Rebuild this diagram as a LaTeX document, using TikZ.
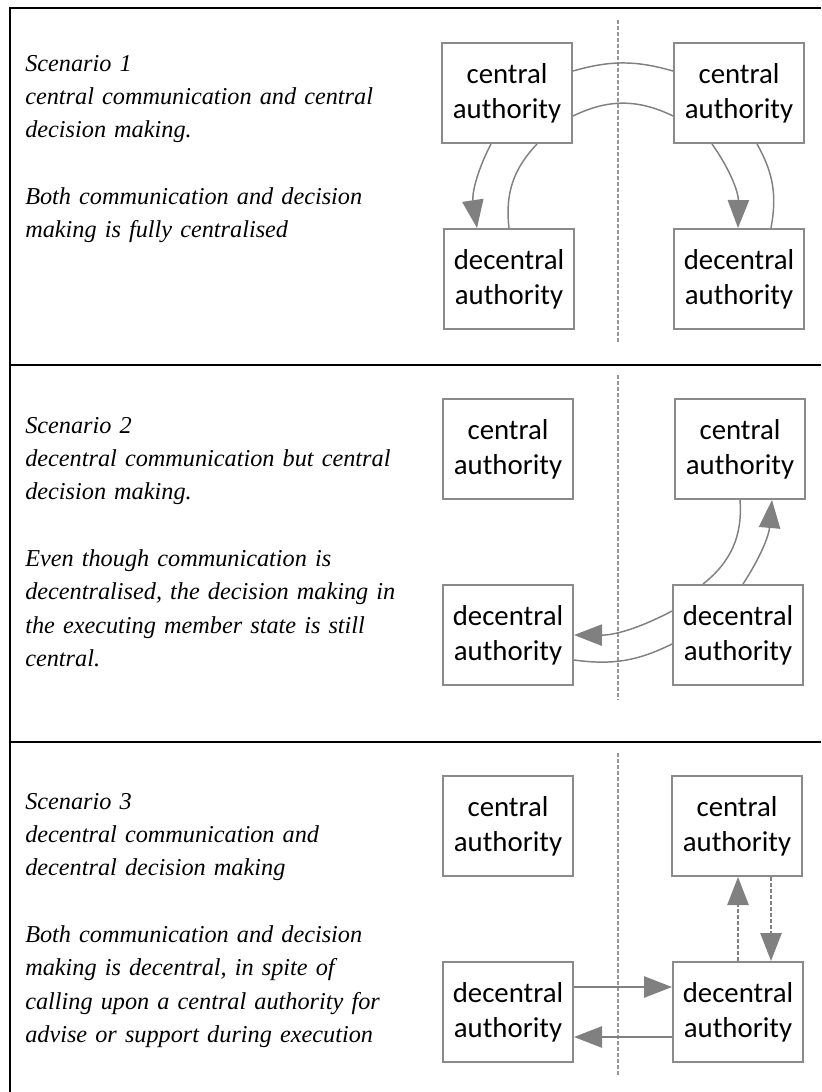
\documentclass[tikz,border=0pt]{standalone}
\usepackage{fontspec}
\newfontfamily\boxfont{Carlito}
\newfontfamily\scenfont{Liberation Serif}
\usetikzlibrary{arrows.meta, calc}
\definecolor{boxgray}{RGB}{138,138,138}
\definecolor{flowgray}{RGB}{128,128,128}
\definecolor{sepgray}{RGB}{150,150,150}

\begin{document}
\begin{tikzpicture}[x=0.75pt, y=0.75pt,
  authbox/.style={draw=boxgray, line width=1.5pt, minimum width=97.5pt, minimum height=75pt,
    inner sep=0pt, align=center, font=\boxfont\fontsize{21.6}{26}\selectfont},
  scentext/.style={anchor=base west, align=left, inner sep=0pt, text width=300pt,
    font=\scenfont\itshape\fontsize{18.2}{25}\selectfont},
  frame/.style={black, line width=1.5pt},
  divider/.style={sepgray, line width=1pt, dash pattern=on 3pt off 1.5pt},
  flow/.style={flowgray, line width=1.1pt},
  flowtip/.style={flow, -{Triangle[length=21pt, width=16pt]}}]
  \useasboundingbox (0,0) rectangle (821,-1092);

  % frame and dividers
  \draw[frame] (821,-8) -- (10,-8) -- (10,-1092);
  \draw[frame] (10,-365) -- (821,-365);
  \draw[frame] (10,-742) -- (821,-742);
  \draw[divider] (618,-20) -- (618,-343);
  \draw[divider] (618,-375) -- (618,-700);
  \draw[divider] (618,-753) -- (618,-1077);

  % scenario texts
  \node[scentext] (txt1) at (25,-71) {Scenario 1\\central communication and central\\decision making.\\[25pt]Both communication and decision\\making is fully centralised};
  \node[scentext] (txt2) at (25,-433) {Scenario 2\\decentral communication but central\\decision making.\\[25pt]Even though communication is\\decentralised, the decision making in\\the executing member state is still\\central.};
  \node[scentext] (txt3) at (25,-809) {Scenario 3\\decentral communication and\\decentral decision making\\[25pt]Both communication and decision\\making is decentral, in spite of\\calling upon a central authority for\\advise or support during execution};

  % scenario 1
  \node[authbox] (cl1) at (507,-93) {central\\authority};
  \node[authbox] (cr1) at (739,-93) {central\\authority};
  \node[authbox] (dl1) at (509,-279) {decentral\\authority};
  \node[authbox] (dr1) at (739,-279) {decentral\\authority};
  \draw[flow] ($(cl1.east)+(0,22)$) to[bend left=16] ($(cr1.west)+(0,22)$);
  \draw[flow] ($(cl1.east)+(0,-23)$) to[bend left=26] ($(cr1.west)+(0,-23)$);
  \draw[flowtip] ($(cl1.south)+(-16,0)$) to[bend right=18] ($(dl1.north)+(-32,0)$);
  \draw[flow] (dl1.north) to[bend left=25] ($(cl1.south)+(30,0)$);
  \draw[flowtip] ($(cr1.south)+(-27,0)$) to[bend left=18] ($(dr1.north)+(-1,0)$);
  \draw[flow] ($(dr1.north)+(32,0)$) to[bend right=20] ($(cr1.south)+(18,0)$);

  % scenario 2
  \node[authbox] (cl2) at (508,-449) {central\\authority};
  \node[authbox] (cr2) at (740,-449) {central\\authority};
  \node[authbox] (dl2) at (508,-635) {decentral\\authority};
  \node[authbox] (dr2) at (738,-635) {decentral\\authority};
  \draw[flow] (cr2.south) to[bend left=28] ($(dr2.north)+(-35,0)$);
  \draw[flowtip] ($(dr2.north)+(5,0)$) to[bend right=14] ($(cr2.south)+(32,0)$);
  \draw[flowtip] ($(dr2.west)+(0,24)$) to[bend left=14] (dl2.east);
  \draw[flow] ($(dr2.west)+(0,-9)$) to[bend left=17] ($(dl2.east)+(0,-25)$);

  % scenario 3
  \node[authbox] (cl3) at (508,-826) {central\\authority};
  \node[authbox] (cr3) at (737,-826) {central\\authority};
  \node[authbox] (dl3) at (508,-1012) {decentral\\authority};
  \node[authbox] (dr3) at (738,-1012) {decentral\\authority};
  \draw[flowtip, dash pattern=on 3pt off 1.5pt] (dr3.north) -- (dr3.north |- cr3.south);
  \draw[flowtip, dash pattern=on 3pt off 1.5pt] ($(cr3.south)+(34,0)$) coordinate (down3) -- (down3 |- dr3.north);
  \draw[flowtip] ($(dl3.east)+(0,25)$) coordinate (fwd3) -- (fwd3 -| dr3.west);
  \draw[flowtip] ($(dr3.west)+(0,-25)$) coordinate (back3) -- (back3 -| dl3.east);
\end{tikzpicture}
\end{document}
